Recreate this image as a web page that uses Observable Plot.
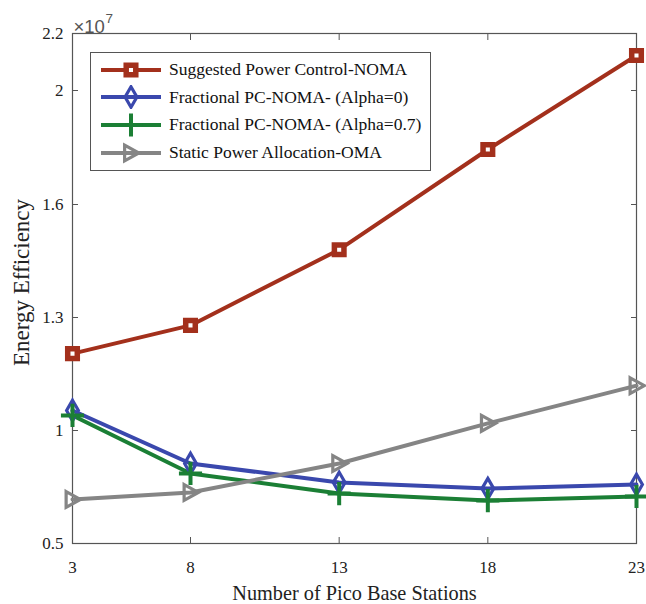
<!DOCTYPE html>
<html>
<head>
<meta charset="utf-8">
<script src="https://cdn.jsdelivr.net/npm/d3@7"></script>
<script src="https://cdn.jsdelivr.net/npm/@observablehq/plot@0.6"></script>
<style>
  html, body { margin: 0; padding: 0; background: #fff; }
  #wrap { position: relative; width: 646px; height: 604px; font-family: "Liberation Serif", "Times New Roman", serif; }
  #legend { position: absolute; left: 90px; top: 52px; width: 341px; height: 119px; border: 1.3px solid #555; background: #fff; box-sizing: border-box; padding-top: 3px; }
  .row { display: flex; align-items: center; height: 27.6px; }
  .row svg { margin-left: 8px; margin-right: 6px; }
  .row span { font-size: 17.5px; color: #111; }
  g[aria-label="x-axis tick label"] text, g[aria-label="y-axis tick label"] text { font-size: 17px; }
</style>
</head>
<body>
<div id="wrap"></div>
<script>
// ---- data ----
const stations = [3, 8, 13, 18, 23];
const suggested = [1.204, 1.279, 1.48, 1.793, 2.123];
const fpcAlpha0 = [1.053, 0.854, 0.77, 0.743, 0.761];
const fpcAlpha07 = [1.04, 0.81, 0.721, 0.69, 0.708];
const staticOMA = [0.695, 0.726, 0.854, 1.019, 1.119];
const seriesNames = [
  "Suggested Power Control-NOMA",
  "Fractional PC-NOMA- (Alpha=0)",
  "Fractional PC-NOMA- (Alpha=0.7)",
  "Static Power Allocation-OMA"
];
const seriesValues = [suggested, fpcAlpha0, fpcAlpha07, staticOMA];
const colors = ["#a3301c", "#3a48ad", "#1b7f35", "#858585"];
const xTicks = [3, 8, 13, 18, 23];
const yTicks = [0.5, 1, 1.3, 1.6, 2, 2.2];
const yTickLabels = ["0.5", "1", "1.3", "1.6", "2", "2.2"];

// custom right-pointing triangle symbol
const triRight = {
  draw(ctx, size) {
    const r = Math.sqrt(size / Math.PI);
    ctx.moveTo(-r * 0.85, -r * 1.05);
    ctx.lineTo(r * 1.05, 0);
    ctx.lineTo(-r * 0.85, r * 1.05);
    ctx.closePath();
  }
};
const symbols = [d3.symbolSquare, d3.symbolDiamond, d3.symbolPlus, triRight];
const radii = [5.4, 6.2, 7.5, 7.5];
const fills = ["#ffffff", "none", "none", "none"];
const sw = [5.5, 3.2, 4, 3.2];

const rows = [];
seriesNames.forEach((s, i) => stations.forEach((x, j) => rows.push({series: s, x, y: seriesValues[i][j], i})));

const W = 646, H = 604, mL = 72, mR = 10, mT = 33, mB = 61;

const marks = [
  Plot.frame({stroke: "#555", strokeWidth: 1.2}),
  // inward ticks on all sides
  Plot.axisX({anchor: "bottom", ticks: xTicks, tickSize: -6, text: null, label: null, stroke: "#555"}),
  Plot.axisX({anchor: "top", ticks: xTicks, tickSize: -6, text: null, label: null, stroke: "#555"}),
  Plot.axisY({anchor: "left", ticks: yTicks, tickSize: -6, text: null, label: null, stroke: "#555"}),
  Plot.axisY({anchor: "right", ticks: yTicks, tickSize: -6, text: null, label: null, stroke: "#555"}),
  // labels
  Plot.axisX({anchor: "bottom", ticks: xTicks, tickSize: 0, tickPadding: 17, label: null, fontSize: 17, fill: "#222"}),
  Plot.axisY({anchor: "left", ticks: yTicks, tickFormat: (d) => yTickLabels[yTicks.indexOf(d)], tickSize: 0, tickPadding: 9, label: null, fontSize: 17, fill: "#222"}),
  Plot.text(["Number of Pico Base Stations"], {frameAnchor: "bottom", textAnchor: "middle", lineAnchor: "middle", dy: 50, fontSize: 20.3, fill: "#222"}),
  Plot.text(["Energy Efficiency"], {frameAnchor: "left", textAnchor: "middle", lineAnchor: "middle", rotate: -90, dx: -51, dy: -6, fontSize: 23, fill: "#222"}),
  Plot.text(["×10"], {frameAnchor: "top-left", textAnchor: "start", lineAnchor: "bottom", dx: 1, dy: -1, fontSize: 18.5, fill: "#555", fontFamily: "'Liberation Sans', Arial, sans-serif"}),
  Plot.text(["7"], {frameAnchor: "top-left", textAnchor: "start", lineAnchor: "bottom", dx: 33, dy: -11, fontSize: 13.5, fill: "#555", fontFamily: "'Liberation Sans', Arial, sans-serif"}),
];
seriesNames.forEach((s, i) => {
  const d = rows.filter(r => r.i === i);
  marks.push(Plot.line(d, {x: "x", y: "y", stroke: colors[i], strokeWidth: 4}));
});
seriesNames.forEach((s, i) => {
  const d = rows.filter(r => r.i === i);
  marks.push(Plot.dot(d, {x: "x", y: "y", symbol: () => symbols[i], r: radii[i], stroke: colors[i], fill: fills[i], strokeWidth: sw[i]}));
});

const chart = Plot.plot({
  width: W, height: H,
  marginLeft: mL, marginRight: mR, marginTop: mT, marginBottom: mB,
  x: {type: "linear", domain: [3, 8, 23], range: [72, 190, 636]},
  y: {type: "linear", domain: [0.5, 1, 1.3, 1.6, 2, 2.2], range: [543, 430, 317, 204, 90, 33]},
  style: {fontFamily: "'Liberation Serif', 'Times New Roman', serif", background: "white", color: "#222"},
  marks
});
const wrap = document.getElementById("wrap");
wrap.appendChild(chart);

// legend overlay
const leg = document.createElement("div");
leg.id = "legend";
seriesNames.forEach((s, i) => {
  const row = document.createElement("div");
  row.className = "row";
  const svg = d3.create("svg").attr("width", 64).attr("height", 24);
  svg.append("line").attr("x1", 2).attr("x2", 62).attr("y1", 12).attr("y2", 12)
    .attr("stroke", colors[i]).attr("stroke-width", 4);
  svg.append("path").attr("transform", "translate(32,12)")
    .attr("d", d3.symbol(symbols[i], Math.PI * radii[i] * radii[i])())
    .attr("fill", fills[i]).attr("stroke", colors[i]).attr("stroke-width", sw[i]);
  row.appendChild(svg.node());
  const t = document.createElement("span");
  t.textContent = s;
  row.appendChild(t);
  leg.appendChild(row);
});
wrap.appendChild(leg);
</script>
</body>
</html>
